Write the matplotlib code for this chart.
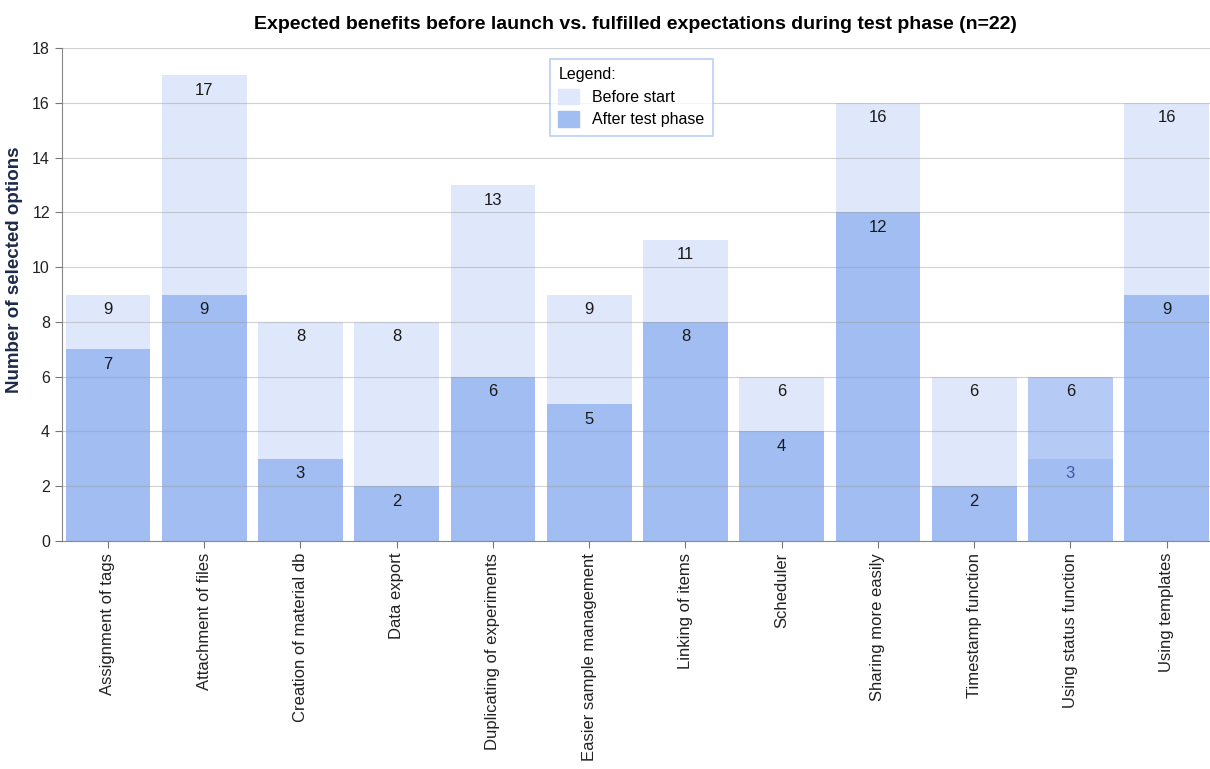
import matplotlib.pyplot as plt
from matplotlib.patches import Patch

categories = ['Assignment of tags', 'Attachment of files', 'Creation of material db',
              'Data export', 'Duplicating of experiments', 'Easier sample management',
              'Linking of items', 'Scheduler', 'Sharing more easily', 'Timestamp function',
              'Using status function', 'Using templates']
before_start = [9, 17, 8, 8, 13, 9, 11, 6, 16, 6, 6, 16]
after_test = [7, 9, 3, 2, 6, 5, 8, 4, 12, 2, 3, 9]

light = '#dfe7fa'
dark = '#a1bdf2'

plt.rcParams['font.family'] = ['Liberation Sans', 'DejaVu Sans']

fig = plt.figure(figsize=(12.1, 7.69), dpi=100)
ax = fig.add_axes([0.051, 0.2965, 0.949, 0.641])

x = list(range(len(categories)))
light_colors = [light] * len(categories)
light_colors[10] = '#b5caf5'  # highlighted bar in the original
ax.bar(x, before_start, width=0.88, color=light_colors, zorder=1)
ax.bar(x, after_test, width=0.88, color=dark, zorder=2)

for i, (b, a) in enumerate(zip(before_start, after_test)):
    ax.text(i, b - 0.55, str(b), ha='center', va='center', fontsize=12, color='#1a1a1a', zorder=4)
    ax.text(i, a - 0.55, str(a), ha='center', va='center', fontsize=12,
            color='#3a5a9a' if i == 10 else '#1a1a1a', zorder=4)

ax.set_ylim(0, 18)
ax.set_xlim(-0.48, 11.45)
ax.set_yticks(range(0, 19, 2))
ax.yaxis.grid(True, color='#9a9a9a', linewidth=0.8, alpha=0.45, zorder=3)
ax.set_axisbelow(False)

ax.set_xticks(x)
ax.set_xticklabels(categories, rotation=90, fontsize=12)
ax.tick_params(axis='both', colors='#777777', labelcolor='#222222', length=5)
ax.tick_params(axis='y', labelsize=11.5)

for side in ['top', 'right']:
    ax.spines[side].set_visible(False)
for side in ['left', 'bottom']:
    ax.spines[side].set_color('#888888')

ax.set_ylabel('Number of selected options', fontsize=13.5, fontweight='bold', color='#1e2a4a')
ax.yaxis.set_label_coords(-0.034, 0.55)

fig.text(0.525, 0.968, 'Expected benefits before launch vs. fulfilled expectations during test phase (n=22)',
         ha='center', va='center', fontsize=14, fontweight='bold')

handles = [Patch(color=light, label='Before start'), Patch(color=dark, label='After test phase')]
leg = ax.legend(handles=handles, title='Legend:', loc='upper left', bbox_to_anchor=(0.418, 0.995),
                fontsize=11.5, title_fontsize=11.5, frameon=True, fancybox=False,
                handlelength=1.3, handleheight=1.1, borderpad=0.55, labelspacing=0.4)
leg._legend_box.align = 'left'
leg.get_frame().set_edgecolor('#a8c4f0')
leg.get_frame().set_linewidth(1.2)
leg.set_zorder(5)

fig.savefig('out.png', dpi=100)
